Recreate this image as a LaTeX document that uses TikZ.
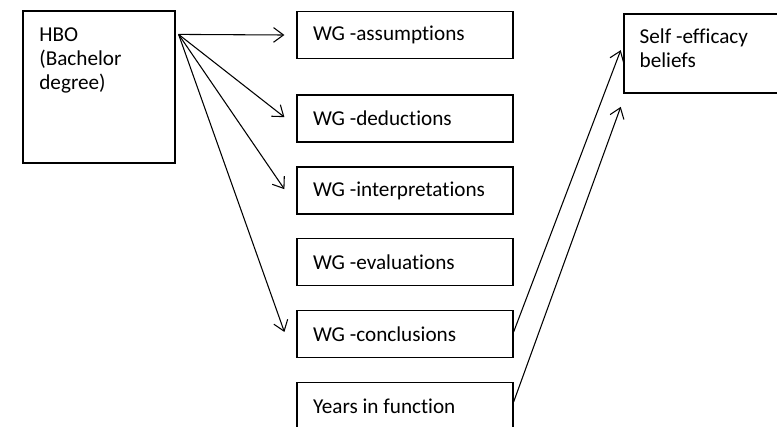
\documentclass[tikz,border=0pt]{standalone}
\usepackage{fontspec}
\setmainfont{Carlito}[Ligatures=NoCommon]
\usetikzlibrary{arrows.meta}
\begin{document}
\begin{tikzpicture}[x=0.75pt,y=-0.75pt,
  txt/.style={font=\fontsize{15.9}{18}\selectfont},
  frame/.style={draw, line width=0.9pt, rectangle},
  wgbox/.style={frame, txt, inner xsep=12pt, inner ysep=0pt, text width=138pt,
    align=flush left, minimum height=35.25pt},
  toplabel/.style={txt, anchor=north west, align=flush left, inner sep=0pt},
  link/.style={line width=0.8pt, -{Straight Barb[length=7.5pt,width=11pt,line width=0.8pt]}}]
\useasboundingbox (0,0) rectangle (777,426);
\clip (0,0) rectangle (777,426);

% source box with its text at the top
\node[frame, minimum width=114pt, minimum height=114pt] (hbo) at (99,87) {};
\node[toplabel] (hbotxt) at ([xshift=12.5pt,yshift=-13pt]hbo.north west)
  {HBO\\(Bachelor\\degree)};

% column of Watson-Glaser sub-scales and work experience
\node[wgbox] (wa) at (405,35)    {WG -assumptions};
\node[wgbox] (wd) at (405,118.5) {WG -deductions};
\node[wgbox] (wi) at (405,190.5) {WG -interpretations};
\node[wgbox] (we) at (405,262)   {WG -evaluations};
\node[wgbox] (wc) at (405,334)   {WG -conclusions};
\node[wgbox] (yf) at (405,406)   {Years in function};

% outcome box, running past the right edge
\node[frame, minimum width=132pt, minimum height=59.25pt] (se) at (712,53.5) {};
\node[toplabel] (setxt) at ([xshift=12pt,yshift=-11pt]se.north west)
  {Self -efficacy\\beliefs};

% arrows out of the degree box
\coordinate (src) at ([xshift=2.25pt,yshift=-18pt]hbo.north east);
\draw[link] (src) -- ([xshift=-9pt]wa.west);
\draw[link] (src) -- ([xshift=-9pt,yshift=1pt]wd.west);
\draw[link] (src) -- ([xshift=-9pt,yshift=1pt]wi.west);
\draw[link] (src) -- ([xshift=-9pt,yshift=1.5pt]wc.west);

% arrows into self-efficacy
\draw[link] ([yshift=1.5pt]wc.east) -- ([xshift=-2pt,yshift=2.5pt]se.west);
\draw[link] ([yshift=3pt]yf.east) -- ([xshift=-2pt,yshift=-40pt]se.west);
\end{tikzpicture}
\end{document}
